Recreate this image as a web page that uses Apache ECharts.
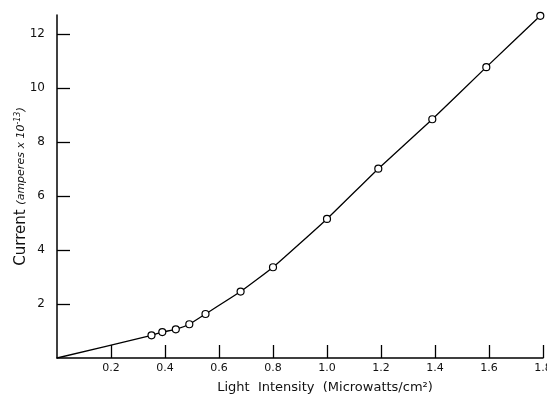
<!DOCTYPE html>
<html>
<head>
<meta charset="utf-8">
<script src="https://cdn.jsdelivr.net/npm/echarts@6/dist/echarts.min.js"></script>
<style>
  html, body { margin: 0; padding: 0; background: #fff; }
  #main { width: 547px; height: 402px; }
</style>
</head>
<body>
<div id="main"></div>
<script>
// light intensity (microwatts/cm2) and photocurrent (amperes x 10^-13)
var intensity = [0, 0.35, 0.39, 0.44, 0.49, 0.55, 0.68, 0.80, 1.00, 1.19, 1.39, 1.59, 1.79];
var current = [0, 0.84, 0.96, 1.06, 1.25, 1.63, 2.46, 3.36, 5.15, 7.01, 8.84, 10.77, 12.67];
var xTicks = [0.2, 0.4, 0.6, 0.8, 1.0, 1.2, 1.4, 1.6, 1.8];
var yTicks = [2, 4, 6, 8, 10, 12];

var myChart = echarts.init(document.getElementById('main'));

var pts = intensity.map(function (x, i) {
  var item = { value: [x, current[i]] };
  if (i === 0) item.symbol = 'none';
  return item;
});

var font = '"DejaVu Sans", sans-serif';

var option = {
  animation: false,
  backgroundColor: '#fff',
  grid: { left: 57, right: 4, top: 15, bottom: 44, outerBoundsMode: 'none', containLabel: false },
  xAxis: {
    type: 'value',
    min: 0,
    max: 1.8,
    interval: 0.2,
    splitLine: { show: false },
    axisLine: { lineStyle: { color: '#000', width: 1.5 } },
    axisTick: { inside: true, length: 13, customValues: xTicks, lineStyle: { color: '#000', width: 1.3 } },
    axisLabel: {
      customValues: xTicks,
      color: '#111', fontFamily: font, fontSize: 11, margin: 5,
      formatter: function (v) { return v.toFixed(1); }
    },
    name: 'Light  Intensity  (Microwatts/cm²)',
    nameLocation: 'middle',
    nameGap: 23,
    nameMoveOverlap: false,
    nameTextStyle: { color: '#111', fontFamily: font, fontSize: 13, padding: [0, 0, 0, 50] }
  },
  yAxis: {
    type: 'value',
    min: 0,
    max: 12.7,
    interval: 2,
    splitLine: { show: false },
    axisLine: { lineStyle: { color: '#000', width: 1.5 } },
    axisTick: { inside: true, length: 13, customValues: yTicks, lineStyle: { color: '#000', width: 1.3 } },
    axisLabel: {
      customValues: yTicks,
      color: '#111', fontFamily: font, fontSize: 12, margin: 12
    },
    name: '{a|Current }{b|(amperes x 10}{c|-13}{b|)}',
    nameLocation: 'middle',
    nameGap: 28,
    nameMoveOverlap: false,
    nameTextStyle: {
      rich: {
        a: { color: '#111', fontFamily: font, fontSize: 15 },
        b: { color: '#111', fontFamily: font, fontSize: 11, fontStyle: 'italic' },
        c: { color: '#111', fontFamily: font, fontSize: 8, fontStyle: 'italic', verticalAlign: 'top', padding: [0, 0, 6, 0] }
      }
    }
  },
  series: [{
    type: 'line',
    data: pts,
    smooth: 0.12,
    symbol: 'circle',
    symbolSize: 7,
    lineStyle: { color: '#000', width: 1.3 },
    itemStyle: { color: '#fff', borderColor: '#000', borderWidth: 1.2 }
  }]
};

myChart.setOption(option);
</script>
</body>
</html>
